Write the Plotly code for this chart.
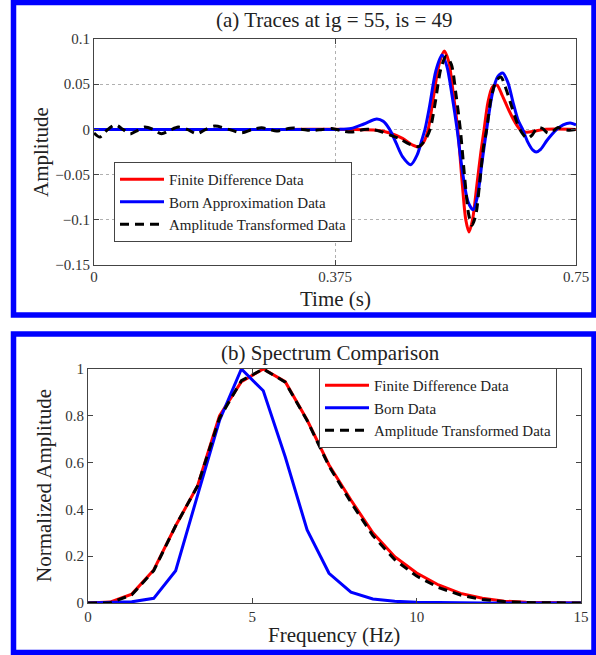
import plotly.graph_objects as go

# ---------------- (a) traces ----------------
fd_t = [0, 0.1, 0.2, 0.3, 0.4, 0.44, 0.46, 0.48, 0.495, 0.505, 0.513, 0.52, 0.528, 0.537, 0.545,
        0.552, 0.559, 0.566, 0.573, 0.5785, 0.5835, 0.589, 0.596, 0.602, 0.607, 0.613, 0.62,
        0.627, 0.635, 0.645, 0.655, 0.663, 0.672, 0.685, 0.70, 0.75]
fd_a = [0, 0, 0, 0, 0, -0.001, -0.004, -0.010, -0.017, -0.0195, -0.014, 0.0, 0.035, 0.072, 0.0867,
        0.075, 0.04, 0.0, -0.06, -0.10, -0.1135, -0.10, -0.06, -0.025, 0.0, 0.03, 0.047,
        0.049, 0.038, 0.022, 0.008, 0.0, -0.003, -0.002, 0, 0]

born_t = [0, 0.1, 0.2, 0.3, 0.38, 0.40, 0.42, 0.44, 0.45, 0.46, 0.47, 0.48, 0.493, 0.503, 0.51,
          0.515, 0.522, 0.532, 0.5415, 0.549, 0.557, 0.565, 0.573, 0.582, 0.590, 0.597, 0.604,
          0.611, 0.620, 0.628, 0.636, 0.644, 0.652, 0.660, 0.667, 0.675, 0.683, 0.688, 0.695,
          0.705, 0.72, 0.73, 0.741, 0.75]
born_a = [0, 0, 0, 0, 0, 0.001, 0.006, 0.0115, 0.009, 0.0, -0.015, -0.030, -0.039, -0.028, -0.012,
          0.0, 0.025, 0.065, 0.0823, 0.07, 0.038, 0.0, -0.045, -0.080, -0.089, -0.073, -0.035,
          0.0, 0.040, 0.058, 0.0624, 0.052, 0.03, 0.01, 0.0, -0.014, -0.023, -0.025, -0.022,
          -0.012, 0.0, 0.005, 0.007, 0.005]

at_t = [0, 0.009, 0.02, 0.033, 0.045, 0.056, 0.068, 0.079, 0.092, 0.105, 0.118, 0.131, 0.145,
        0.16, 0.174, 0.188, 0.21, 0.23, 0.246, 0.261, 0.273, 0.284, 0.296, 0.31, 0.325, 0.34,
        0.355, 0.37, 0.385, 0.40, 0.41, 0.42, 0.432, 0.445, 0.46, 0.475, 0.49, 0.505, 0.515,
        0.523, 0.531, 0.54, 0.548, 0.556, 0.563, 0.57, 0.577, 0.583, 0.588, 0.594, 0.60, 0.606,
        0.611, 0.618, 0.626, 0.633, 0.641, 0.65, 0.658, 0.666, 0.674, 0.682, 0.69, 0.698, 0.706,
        0.714, 0.722, 0.73, 0.74, 0.75]
at_a = [-0.004, -0.0085, -0.001, 0.005, 0.0, -0.005, -0.001, 0.0026, 0.0, -0.0048, -0.001, 0.0026, 0.0,
        -0.0048, 0.0, 0.0037, 0.0, -0.0037, 0.0, 0.0018, 0.0, -0.0018, 0.0, 0.0015, 0.0, -0.0012,
        0.0, 0.001, -0.0015, -0.003, -0.002, 0.0, 0.0, -0.002, -0.006, -0.010, -0.016, -0.019, -0.012,
        0.0, 0.03, 0.068, 0.081, 0.072, 0.04, 0.0, -0.055, -0.094, -0.106, -0.095, -0.06, -0.02,
        0.0, 0.035, 0.054, 0.058, 0.045, 0.025, 0.008, -0.004, -0.010, -0.006, 0.002, 0.001, -0.004,
        -0.002, 0.002, 0.0, -0.001, 0.0]

time_ticks = [0, 0.375, 0.75]
time_labels = ["0", "0.375", "0.75"]
amp_ticks = [-0.15, -0.1, -0.05, 0, 0.05, 0.1]
amp_labels = ["\u22120.15", "\u22120.1", "\u22120.05", "0", "0.05", "0.1"]

# ---------------- (b) spectra ----------------
freq = [0, 0.667, 1.333, 2.0, 2.667, 3.333, 4.0, 4.667, 5.333, 6.0, 6.667, 7.333, 8.0, 8.667,
        9.333, 10.0, 10.667, 11.333, 12.0, 12.667, 13.333, 14.0, 14.667, 15.333]
fd_spec = [0, 0.004, 0.038, 0.141, 0.33, 0.50, 0.80, 0.946, 1.0, 0.946, 0.782, 0.59, 0.44, 0.30,
           0.198, 0.128, 0.077, 0.041, 0.02, 0.008, 0.003, 0.001, 0.0, 0.0]
born_spec = [0, 0.002, 0.005, 0.02, 0.138, 0.46, 0.78, 1.0, 0.907, 0.625, 0.312, 0.127, 0.046,
             0.017, 0.007, 0.003, 0.001, 0.0, 0, 0, 0, 0, 0, 0]
at_spec = [0, 0.0, 0.035, 0.138, 0.33, 0.50, 0.79, 0.95, 1.0, 0.944, 0.78, 0.585, 0.43, 0.288,
           0.185, 0.115, 0.066, 0.034, 0.015, 0.006, 0.002, 0.0, 0.0, 0.0]

freq_ticks = [0, 5, 10, 15]
norm_ticks = [0, 0.2, 0.4, 0.6, 0.8, 1]
norm_labels = ["0", "0.2", "0.4", "0.6", "0.8", "1"]

W, H = 596, 655
FONT = "Liberation Serif"
RED, BLUE, BLACK = "#ff0000", "#0000ff", "#000000"

def px(x):
    return x / W

def py(y):
    return 1 - y / H

fig = go.Figure()
fig.add_trace(go.Scatter(x=fd_t, y=fd_a, mode="lines", name="Finite Difference Data",
                         line=dict(color=RED, width=3, shape="spline", smoothing=0.8),
                         xaxis="x", yaxis="y", legend="legend"))
fig.add_trace(go.Scatter(x=born_t, y=born_a, mode="lines", name="Born Approximation Data",
                         line=dict(color=BLUE, width=3, shape="spline", smoothing=0.8),
                         xaxis="x", yaxis="y", legend="legend"))
fig.add_trace(go.Scatter(x=at_t, y=at_a, mode="lines", name="Amplitude Transformed Data",
                         line=dict(color=BLACK, width=3, dash="9px,6px", shape="spline", smoothing=0.8),
                         xaxis="x", yaxis="y", legend="legend"))

fig.add_trace(go.Scatter(x=freq, y=fd_spec, mode="lines", name="Finite Difference Data",
                         line=dict(color=RED, width=3), xaxis="x2", yaxis="y2", legend="legend2"))
fig.add_trace(go.Scatter(x=freq, y=born_spec, mode="lines", name="Born Data",
                         line=dict(color=BLUE, width=3), xaxis="x2", yaxis="y2", legend="legend2"))
fig.add_trace(go.Scatter(x=freq, y=at_spec, mode="lines", name="Amplitude Transformed Data",
                         line=dict(color=BLACK, width=3, dash="9px,6px"), xaxis="x2", yaxis="y2",
                         legend="legend2"))

axis_common = dict(ticks="inside", ticklen=5, tickcolor="#444", showline=True, linecolor="#444",
                   linewidth=1, mirror="ticks", zeroline=False,
                   tickfont=dict(family=FONT, size=15, color="#333"))

legend_common = dict(xanchor="left", yanchor="top", bgcolor="white", bordercolor="#444",
                     borderwidth=1, font=dict(family=FONT, size=15, color="#222"),
                     tracegroupgap=0, itemwidth=44)

fig.update_layout(
    width=W, height=H, autosize=False,
    margin=dict(l=0, r=0, t=0, b=0, autoexpand=False),
    paper_bgcolor="white", plot_bgcolor="white",
    font=dict(family=FONT, color="#222"),
    xaxis=dict(domain=[px(94), px(576)], range=[0, 0.75], tickvals=time_ticks, ticktext=time_labels,
               showgrid=True, gridcolor="#b0b0b0", griddash="dot", gridwidth=1, anchor="y",
               ticklabelstandoff=-2, **axis_common),
    yaxis=dict(domain=[py(265), py(39)], range=[-0.15, 0.1], tickvals=amp_ticks, ticktext=amp_labels,
               showgrid=True, gridcolor="#b0b0b0", griddash="dot", gridwidth=1, anchor="x",
               **axis_common),
    xaxis2=dict(domain=[px(88), px(581)], range=[0, 15], tickvals=freq_ticks,
                showgrid=False, anchor="y2", **axis_common),
    yaxis2=dict(domain=[py(603), py(369)], range=[0, 1], tickvals=norm_ticks, ticktext=norm_labels,
                showgrid=False, anchor="x2", **axis_common),
    legend=dict(x=px(114), y=py(162), **legend_common),
    legend2=dict(x=px(319), y=py(368), **legend_common),
    showlegend=True,
)

ann = [
    ("(a) Traces at ig = 55, is = 49", 334, 20, 0),
    ("Time (s)", 335, 299, 0),
    ("Amplitude", 41, 152, -90),
    ("(b) Spectrum Comparison", 331, 353, 0),
    ("Frequency (Hz)", 334, 635, 0),
    ("Normalized Amplitude", 44, 486, -90),
]
for text, x, y, rot in ann:
    fig.add_annotation(text=text, x=px(x), y=py(y), xref="paper", yref="paper", showarrow=False,
                       xanchor="center", yanchor="middle", textangle=rot,
                       font=dict(family=FONT, size=21, color="#222"))

fig.add_shape(type="rect", xref="paper", yref="paper", x0=px(13.5), x1=px(594), y0=py(315), y1=py(2.5),
              line=dict(color="#0000ff", width=5.5), layer="above")
fig.add_shape(type="rect", xref="paper", yref="paper", x0=px(13.5), x1=px(594), y0=py(652.5), y1=py(334),
              line=dict(color="#0000ff", width=5.5), layer="above")

fig.write_html("out.html", config={"displayModeBar": False},
               post_script="document.body.style.margin='0';document.body.style.overflow='hidden';")
